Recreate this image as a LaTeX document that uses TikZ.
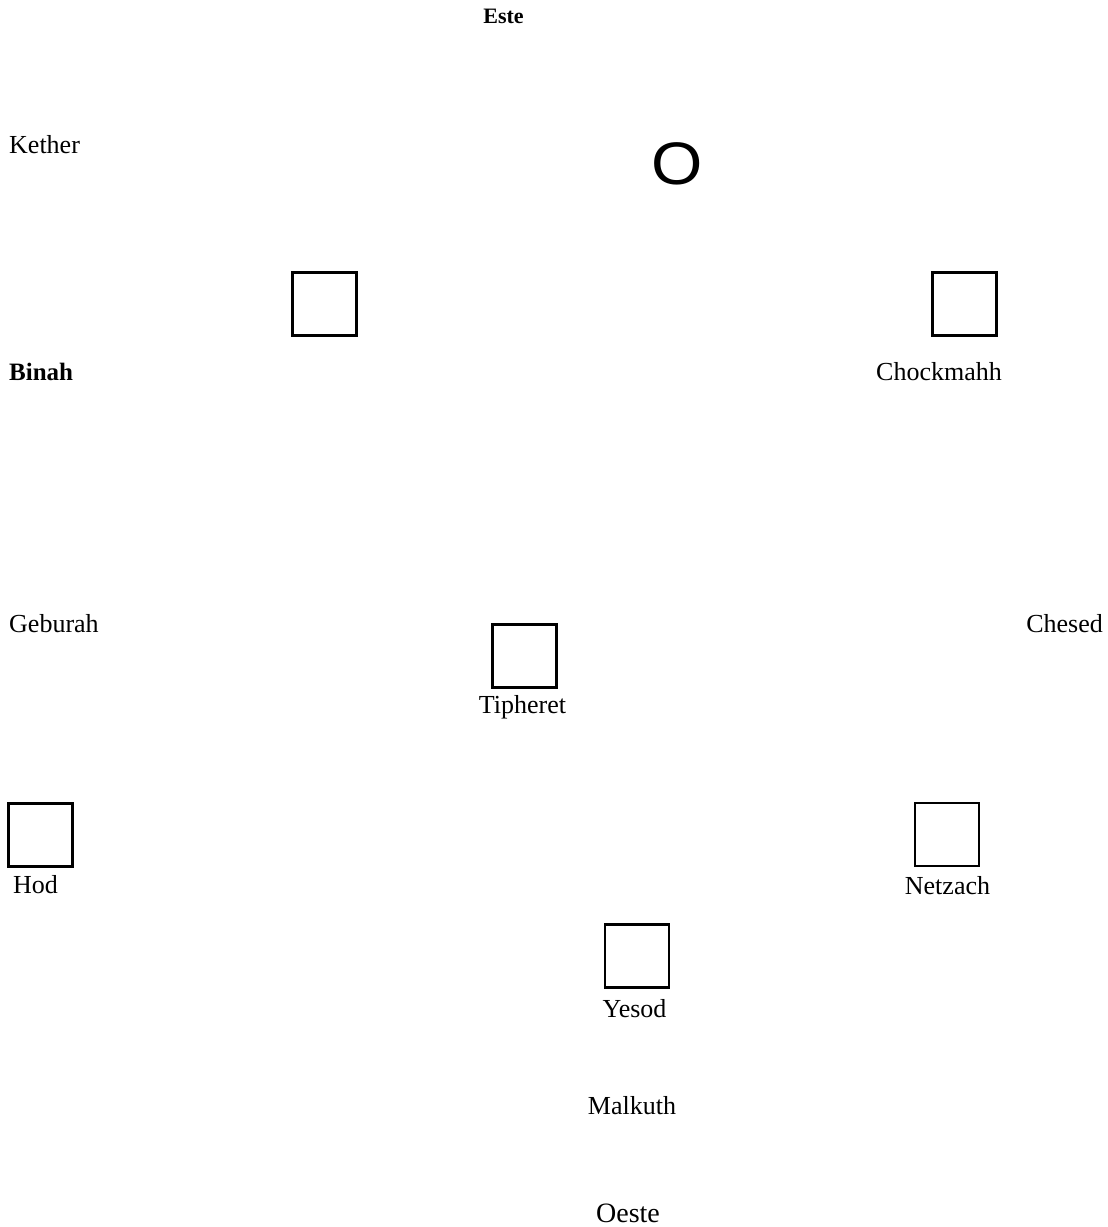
\documentclass[tikz,border=0pt]{standalone}
\usepackage{fontspec}
\setmainfont{Liberation Serif}
\newfontfamily\sansO{Liberation Sans}
\begin{document}
\begin{tikzpicture}[x=1pt,y=-1pt,
  lbl/.style={inner sep=0pt, font=\fontsize{26}{30}\selectfont},
  boldlbl/.style={inner sep=0pt, font=\fontsize{25}{30}\selectfont\bfseries},
  sefbox/.style={draw=black, line width=2.2pt, minimum width=64pt, minimum height=63pt, inner sep=0pt}]
\useasboundingbox[fill=white] (0,0) rectangle (1108,1227);
% boxes
\node[sefbox] (boxA) at (324.5,304) {};
\node[sefbox] (boxB) at (964.5,304) {};
\node[sefbox] (boxT) at (524.5,656) {};
\node[sefbox] (boxH) at (40.5,835) {};
\node[sefbox] (boxN) at (947,834.5) {};
\node[sefbox] (boxY) at (637,956) {};
% big O
\node[inner sep=0pt, anchor=base, font=\fontsize{60}{62}\sansO] (bigO) at (677.5,184) {\scalebox{1.1}[1]{O}};
% labels
\node[inner sep=0pt, anchor=base, font=\fontsize{22}{26}\selectfont\bfseries] (este) at (503.5,23) {Este};
\node[lbl, anchor=base west] (kether) at (9,153) {Kether};
\node[boldlbl, anchor=base west] (binah) at (9,380) {Binah};
\node[lbl, anchor=base] (chock) at (939,380) {Chockmahh};
\node[lbl, anchor=base west] (geburah) at (9,632) {Geburah};
\node[lbl, anchor=base east] (chesed) at (1103,632) {Chesed};
\node[lbl, anchor=base] (tiph) at (522.5,713) {Tipheret};
\node[lbl, anchor=base west] (hod) at (13,893) {Hod};
\node[lbl, anchor=base] (netz) at (947.5,894) {Netzach};
\node[lbl, anchor=base] (yesod) at (634.5,1017) {Yesod};
\node[lbl, anchor=base] (malk) at (632,1114) {Malkuth};
\node[inner sep=0pt, anchor=base, font=\fontsize{28}{30}\selectfont] (oeste) at (628,1222) {Oeste};
\end{tikzpicture}
\end{document}
